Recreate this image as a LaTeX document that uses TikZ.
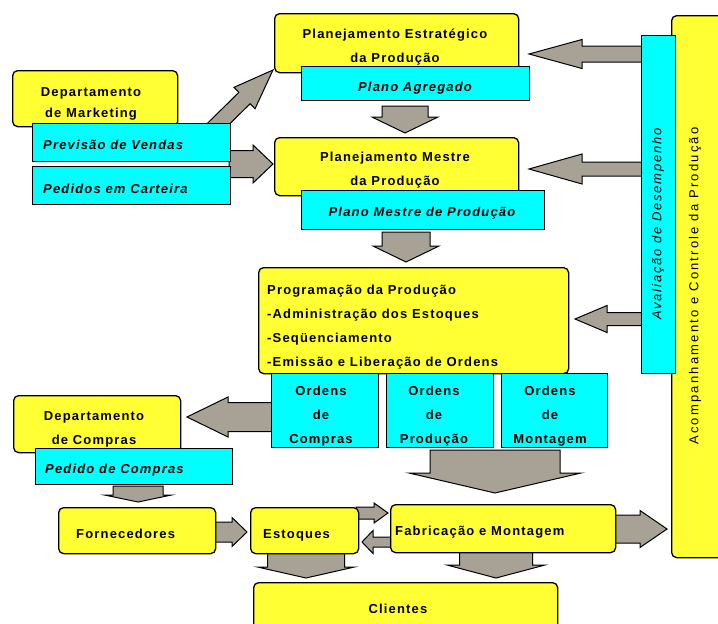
\documentclass[tikz,border=0pt]{standalone}
\usepackage{fontspec}
\setmainfont{Liberation Sans}
\newfontfamily\lblfam[LetterSpace=9]{Liberation Sans}
\newfontfamily\vertfam[LetterSpace=14]{Liberation Sans}
\newfontfamily\longvertfam[LetterSpace=17]{Liberation Sans}
\usetikzlibrary{calc}
\pgfdeclarelayer{background}
\pgfsetlayers{background,main}

\definecolor{boxyellow}{RGB}{255,255,51}
\definecolor{boxcyan}{RGB}{0,255,255}
\definecolor{arrowgray}{RGB}{168,162,150}

% rectangular box given by its corners (x1,y1) and (x2,y2)
\newcommand\mkbox[6]{%
  \node[#1, anchor=north west, minimum width={(#5-#3)*1pt},
        minimum height={(#6-#4)*1pt}] (#2) at (#3,#4) {};}

% block arrow: tail, tip, shaft half width, head half width, head length
\newcommand\fatarrow[5]{%
  \coordinate (fah) at ($(#2)!#5pt!(#1)$);
  \draw[fat] ($(#1)!#3pt!90:(#2)$) -- ($(fah)!#3pt!90:(#2)$)
    -- ($(fah)!#4pt!90:(#2)$) -- (#2) -- ($(fah)!#4pt!-90:(#2)$)
    -- ($(fah)!#3pt!-90:(#2)$) -- ($(#1)!#3pt!-90:(#2)$) -- cycle;}

\tikzset{
  ybox/.style={draw=black, line width=1.3pt, fill=boxyellow,
               rounded corners=5pt, inner sep=0pt},
  cbox/.style={draw=black, line width=1.3pt, fill=boxcyan, inner sep=0pt},
  fat/.style={draw=black, line width=1pt, fill=arrowgray, line join=miter},
  lbl/.style={font=\lblfam\bfseries\fontsize{13}{24}\selectfont,
              inner sep=0pt, align=center},
  lblnarrow/.style={font=\lblfam\bfseries\fontsize{13}{21}\selectfont,
              inner sep=0pt, align=center},
  ilbl/.style={font=\lblfam\bfseries\itshape\fontsize{13}{24}\selectfont,
              inner sep=0pt},
  vlbl/.style={font=\longvertfam\fontsize{13}{16}\selectfont,
              inner sep=0pt, rotate=90},
  vilbl/.style={font=\vertfam\itshape\fontsize{13}{16}\selectfont,
              inner sep=0pt, rotate=90},
}

\begin{document}
\begin{tikzpicture}[x=1pt, y=-1pt]
\path[use as bounding box] (0,0) rectangle (718,624);
\clip (0,0) rectangle (718,624);

% ---- yellow boxes
\mkbox{ybox}{acomp}{671}{15}{740}{557}
\mkbox{ybox}{pe}{274}{13}{518}{72}
\mkbox{ybox}{pm}{274}{137}{518}{195}
\mkbox{ybox}{prog}{258}{267}{568}{373}
\mkbox{ybox}{dm}{12}{70}{177}{126}
\mkbox{ybox}{dc}{13}{395}{180}{452}
\mkbox{ybox}{forn}{58}{507}{215}{553}
\mkbox{ybox}{est}{250}{507}{358}{553}
\mkbox{ybox}{fab}{390}{504}{615}{552}
\mkbox{ybox}{cli}{253}{582}{557}{650}

% ---- cyan boxes
\mkbox{cbox}{aval}{641}{35}{675}{373}
\mkbox{cbox}{pa}{301}{66}{529}{100}
\mkbox{cbox}{pmp}{301}{190}{544}{229}
\mkbox{cbox}{oc}{271}{373}{378}{447}
\mkbox{cbox}{op}{386}{373}{493}{447}
\mkbox{cbox}{om}{501}{373}{607}{447}
\mkbox{cbox}{pv}{32}{123}{230}{161}
\mkbox{cbox}{pc}{32}{166}{230}{204}
\mkbox{cbox}{pdc}{35}{448}{232}{484}

% ---- labels
\node[lbl] (pe-t) at (395,47) {Planejamento Estratégico\\da Produção};
\node[ilbl] (pa-t) at (415,88) {Plano Agregado};
\node[lbl] (pm-t) at (395,170) {Planejamento Mestre\\da Produção};
\node[ilbl] (pmp-t) at (422,213) {Plano Mestre de Produção};
\node[lblnarrow] (dm-t) at (91,104) {Departamento\\de Marketing};
\node[ilbl, anchor=west] (pv-t) at (43,145) {Previsão de Vendas};
\node[ilbl, anchor=west] (pc-t) at (43,189) {Pedidos em Carteira};
\node[lbl, align=left, anchor=west] (prog-t) at (267,327)
  {Programação da Produção\\-Administração dos Estoques\\-Seqüenciamento\\-Emissão e Liberação de Ordens};
\node[lbl] (oc-t) at (321,416) {Ordens\\de\\Compras};
\node[lbl] (op-t) at (434,416) {Ordens\\de\\Produção};
\node[lbl] (om-t) at (550,416) {Ordens\\de\\Montagem};
\node[lbl] (dc-t) at (94,429) {Departamento\\de Compras};
\node[ilbl, anchor=west] (pdc-t) at (45,470) {Pedido de Compras};
\node[lbl, anchor=west] (forn-t) at (76,534) {Fornecedores};
\node[lbl, anchor=west] (est-t) at (263,535) {Estoques};
\node[lbl, anchor=west] (fab-t) at (395,532) {Fabricação e Montagem};
\node[lbl] (cli-t) at (398,609) {Clientes};
\node[vilbl] (aval-t) at (658,224) {Avaliação de Desempenho};
\node[vlbl] (acomp-t) at (695,286) {Acompanhamento e Controle da Produção};

% ---- page background and block arrows, behind the boxes
\begin{pgfonlayer}{background}
  \fill[white] (0,0) rectangle (718,624);

  \coordinate (a1s) at (405,106);  \coordinate (a1e) at (405,133);
  \coordinate (a2s) at (406,232);  \coordinate (a2e) at (406,262);
  \coordinate (a3s) at (495,450);  \coordinate (a3e) at (495,493);
  \coordinate (a4s) at (210,132);  \coordinate (a4e) at (273,70);
  \coordinate (a5s) at (229,164);  \coordinate (a5e) at (273,164);
  \coordinate (a6s) at (645,54);   \coordinate (a6e) at (529,54);
  \coordinate (a7s) at (645,169);  \coordinate (a7e) at (529,169);
  \coordinate (a8s) at (645,319);  \coordinate (a8e) at (575,319);
  \coordinate (a9s) at (274,417);  \coordinate (a9e) at (187,417);
  \coordinate (a10s) at (138,486); \coordinate (a10e) at (138,502);
  \coordinate (a11s) at (213,532); \coordinate (a11e) at (247,532);
  \coordinate (a12s) at (356,513); \coordinate (a12e) at (388,513);
  \coordinate (a13s) at (393,542); \coordinate (a13e) at (362,542);
  \coordinate (a14s) at (613,529); \coordinate (a14e) at (667,529);
  \coordinate (a15s) at (306,550); \coordinate (a15e) at (306,578);
  \coordinate (a16s) at (496,550); \coordinate (a16e) at (496,578);

  \fatarrow{a1s}{a1e}{23}{33}{16}
  \fatarrow{a2s}{a2e}{24}{33}{16}
  \fatarrow{a3s}{a3e}{65}{86}{20}
  \fatarrow{a4s}{a4e}{8}{15}{40}
  \fatarrow{a5s}{a5e}{13.5}{19}{20}
  \fatarrow{a6s}{a6e}{8}{14.5}{53}
  \fatarrow{a7s}{a7e}{7}{15}{53}
  \fatarrow{a8s}{a8e}{6.5}{13.5}{32}
  \fatarrow{a9s}{a9e}{14.5}{20}{41}
  \fatarrow{a10s}{a10e}{25}{33.5}{7}
  \fatarrow{a11s}{a11e}{10}{14.5}{15}
  \fatarrow{a12s}{a12e}{6}{10}{14}
  \fatarrow{a13s}{a13e}{5}{11.5}{11}
  \fatarrow{a14s}{a14e}{14}{18.5}{27}
  \fatarrow{a15s}{a15e}{38.5}{48.5}{11}
  \fatarrow{a16s}{a16e}{36.5}{49}{13}
\end{pgfonlayer}
\end{tikzpicture}
\end{document}
